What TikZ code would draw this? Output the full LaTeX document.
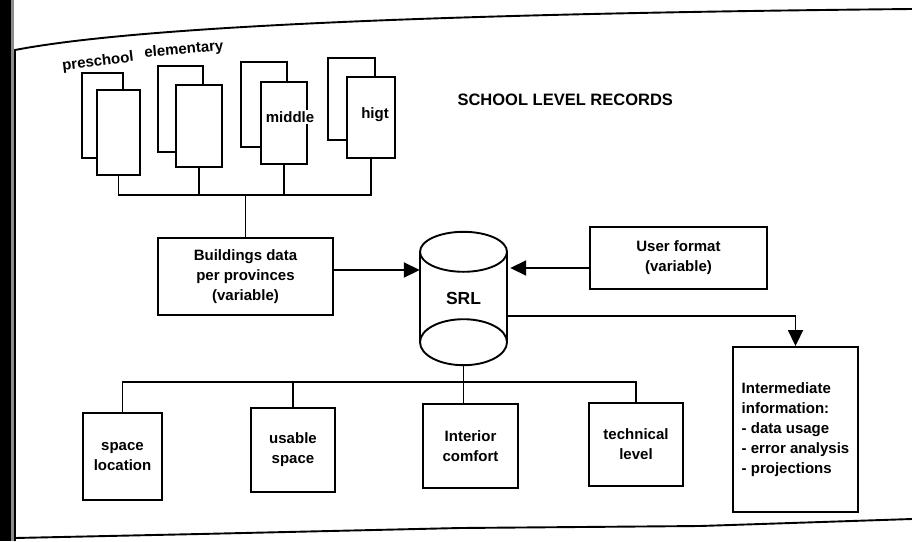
\documentclass[tikz,border=0pt]{standalone}
\usepackage{fontspec}
\setmainfont{Liberation Sans}
\usetikzlibrary{arrows.meta,calc}
\begin{document}
\begin{tikzpicture}[x=1pt,y=-1pt,
  box/.style={draw,line width=1.9pt,rectangle,inner sep=0pt,fill=white,align=center,font=\bfseries\fontsize{15}{20}\selectfont},
  ln/.style={line width=1.9pt},
  arr/.style={line width=1.9pt,-{Triangle[length=16pt,width=15pt]}},
  lbl/.style={font=\bfseries\fontsize{15}{20}\selectfont}
]
\useasboundingbox (0,0) rectangle (912,541);
% scanned edge and frame
\fill[black] (0,0) rectangle (11,541);
\fill[black!45] (11,0) rectangle (14,541);
\draw[ln] (912,9) .. controls (500,13) and (150,24) .. (15,50) -- (15,541);
\draw[ln] (15,538) -- (200,534) -- (460,528) -- (700,526) -- (912,519);

% school records
\node[box,minimum width=41pt,minimum height=85pt] (pb) at (102.5,115.5) {};
\node[box,minimum width=43pt,minimum height=85pt] (pf) at (118.5,132.5) {};
\node[box,minimum width=45pt,minimum height=86pt] (eb) at (180.5,109) {};
\node[box,minimum width=46pt,minimum height=82pt] (ef) at (199,126) {};
\node[box,minimum width=46pt,minimum height=85pt] (mb) at (264,104.5) {};
\node[box,minimum width=46pt,minimum height=82pt] (mf) at (284,123) {};
\node[box,minimum width=47pt,minimum height=82pt] (hb) at (351.5,99) {};
\node[box,minimum width=48pt,minimum height=81pt] (hf) at (371,117.5) {};
\node[lbl,fill=white,inner sep=1pt] (mt) at (290,117) {middle};
\node[lbl,fill=white,inner sep=1pt] (ht) at (375,115) {higt};
\node[lbl,rotate=7] (plab) at (98,62) {preschool};
\node[lbl,rotate=5] (elab) at (184,50) {elementary};
\node[lbl,font=\bfseries\fontsize{16.5}{20}\selectfont,anchor=west] (title) at (454,100) {SCHOOL LEVEL RECORDS};

\coordinate (busT) at (0,195);
\node[box,minimum width=175pt,minimum height=77pt] (bd) at (245.5,276.5) {Buildings data\\per provinces\\(variable)};
\draw[ln] (pf.south) -- (pf.south |- busT) -- (hf.south |- busT) -- (hf.south);
\draw[ln] (ef.south) -- (ef.south |- busT);
\draw[ln] (mf.south) -- (mf.south |- busT);
\draw[ln] (bd.north |- busT) -- (bd.north);

% SRL cylinder
\node[lbl,font=\bfseries\fontsize{17.5}{20}\selectfont,minimum width=87pt,minimum height=133pt,inner sep=0pt] (srl) at (463.5,298.5) {SRL};
\draw[ln] ($(srl.north)+(0,20)$) ellipse [x radius=43.5pt,y radius=20pt];
\draw[ln] ($(srl.south)+(0,-23)$) ellipse [x radius=43.5pt,y radius=23pt];
\draw[ln] ($(srl.north west)+(0,20)$) -- ($(srl.south west)+(0,-23)$);
\draw[ln] ($(srl.north east)+(0,20)$) -- ($(srl.south east)+(0,-23)$);

\node[box,minimum width=177pt,minimum height=62pt] (uf) at (678.5,258) {User format\\(variable)};
\node[box,minimum width=125pt,minimum height=165pt,align=left] (im) at (795.5,429.5) {Intermediate\\information:\\- data usage\\- error analysis\\- projections};

\coordinate (a1) at (0,270);
\coordinate (a2) at (0,268);
\coordinate (a3) at (0,316);
\draw[arr] (bd.east |- a1) -- (srl.west |- a1);
\draw[arr,shorten >=3pt] (uf.west |- a2) -- (srl.east |- a2);
\draw[arr] (srl.east |- a3) -| (im.north);

% lower level
\node[box,minimum width=79pt,minimum height=87pt] (sl) at (122.5,456.5) {space\\location};
\node[box,minimum width=84pt,minimum height=84pt] (us) at (293,450) {usable\\space};
\node[box,minimum width=95pt,minimum height=84pt] (ic) at (470.5,446) {Interior\\comfort};
\node[box,minimum width=94pt,minimum height=83pt] (tl) at (636,444.5) {technical\\level};
\coordinate (busB) at (0,382);
\draw[ln] (sl.north) -- (sl.north |- busB) -- (tl.north |- busB) -- (tl.north);
\draw[ln] (us.north |- busB) -- (us.north);
\draw[ln] (srl.south) -- (srl.south |- ic.north);
\end{tikzpicture}
\end{document}
